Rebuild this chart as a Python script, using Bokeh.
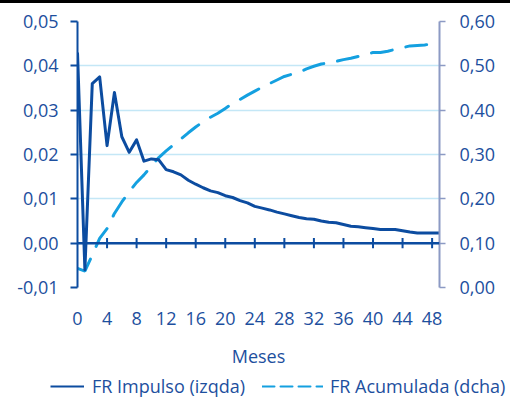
from bokeh.plotting import figure
from bokeh.models import (Range1d, LinearAxis, FixedTicker, Legend, LegendItem,
                          Span, ColumnDataSource, Div)
from bokeh.layouts import column
from bokeh.embed import file_html
from bokeh.resources import INLINE

months = list(range(50))
impulso = [0.043, -0.006, 0.036, 0.0375, 0.022, 0.034, 0.024, 0.0205, 0.0233, 0.0185,
           0.019, 0.0188, 0.0166, 0.0161, 0.0154, 0.0142, 0.0133, 0.0125, 0.0118, 0.0114,
           0.0107, 0.0103, 0.0096, 0.0091, 0.0083, 0.0079, 0.0075, 0.0070, 0.0066, 0.0062,
           0.0058, 0.0055, 0.0054, 0.0050, 0.0047, 0.0046, 0.0042, 0.0038, 0.0037, 0.0035,
           0.0033, 0.0031, 0.0031, 0.0031, 0.0028, 0.0025, 0.0023, 0.0023, 0.0023, 0.0023]
acumulada = [0.043, 0.037, 0.073, 0.111, 0.133, 0.167, 0.193, 0.216, 0.237, 0.254,
             0.274, 0.293, 0.308, 0.322, 0.335, 0.349, 0.362, 0.374, 0.384, 0.393,
             0.404, 0.415, 0.424, 0.434, 0.443, 0.452, 0.460, 0.468, 0.476, 0.481,
             0.486, 0.493, 0.499, 0.504, 0.507, 0.510, 0.514, 0.517, 0.521, 0.526,
             0.530, 0.530, 0.533, 0.537, 0.541, 0.545, 0.546, 0.547, 0.550, 0.552]

x_ticks = [0, 4, 8, 12, 16, 20, 24, 28, 32, 36, 40, 44, 48]
left_ticks = [-0.01, 0.0, 0.01, 0.02, 0.03, 0.04, 0.05]
left_labels = ["-0,01", "0,00", "0,01", "0,02", "0,03", "0,04", "0,05"]
right_ticks = [0.0, 0.1, 0.2, 0.3, 0.4, 0.5, 0.6]
right_labels = ["0,00", "0,10", "0,20", "0,30", "0,40", "0,50", "0,60"]
x_label = "Meses"
name_imp = "FR Impulso (izqda)"
name_acu = "FR Acumulada (dcha)"

FONT = "Open Sans"
TXT = "#1d4f9e"
DARK = "#0c4ca0"
LIGHT = "#14a0e0"
GRID = "#c4e7f6"
RAXIS = "#8c9ac4"
FS = "18px"

# top black rule
bar = Div(text="", width=510, height=3, margin=0,
          styles={"display": "block", "background-color": "#000000",
                  "width": "510px", "height": "3px"})

p = figure(width=504, height=368, output_backend="svg", toolbar_location=None,
           x_range=Range1d(0, 49), y_range=Range1d(-0.01, 0.05),
           min_border_left=77, min_border_right=65, min_border_top=18,
           min_border_bottom=84, outline_line_color=None)
p.frame_align = False
p.extra_y_ranges = {"r": Range1d(0, 0.6)}

# grid
p.xgrid.visible = False
p.ygrid.ticker = FixedTicker(ticks=left_ticks)
p.ygrid.grid_line_color = GRID
p.ygrid.grid_line_width = 1.5

# left axis
la = p.yaxis[0]
la.ticker = FixedTicker(ticks=left_ticks)
la.major_label_overrides = dict(zip(left_ticks, left_labels))
la.axis_line_color = DARK
la.axis_line_width = 2
la.major_tick_line_color = DARK
la.major_tick_line_width = 2
la.major_tick_out = 7
la.major_tick_in = 0
la.minor_tick_line_color = None
la.major_label_standoff = 12
la.major_label_text_font = FONT
la.major_label_text_font_size = FS
la.major_label_text_color = TXT

# right axis
ra = LinearAxis(y_range_name="r", ticker=FixedTicker(ticks=right_ticks))
ra.major_label_overrides = dict(zip(right_ticks, right_labels))
ra.axis_line_color = RAXIS
ra.axis_line_width = 2
ra.major_tick_line_color = RAXIS
ra.major_tick_line_width = 1.5
ra.major_tick_out = 6
ra.major_tick_in = 0
ra.minor_tick_line_color = None
ra.major_label_standoff = 14
ra.major_label_text_font = FONT
ra.major_label_text_font_size = FS
ra.major_label_text_color = TXT
p.add_layout(ra, "right")

# bottom axis (labels only)
ba = p.xaxis[0]
ba.ticker = FixedTicker(ticks=x_ticks)
ba.axis_line_color = None
ba.major_tick_line_color = None
ba.minor_tick_line_color = None
ba.major_tick_out = 0
ba.major_tick_in = 0
ba.major_label_standoff = 24
ba.major_label_text_font = FONT
ba.major_label_text_font_size = FS
ba.major_label_text_color = TXT
ba.axis_label = x_label
ba.axis_label_standoff = 16
ba.axis_label_text_font = FONT
ba.axis_label_text_font_size = FS
ba.axis_label_text_font_style = "normal"
ba.axis_label_text_color = TXT

# zero line with crossing ticks
p.add_layout(Span(location=0, dimension="width", line_color=DARK, line_width=2.5))
half = 0.00115
p.segment(x0=x_ticks[1:], x1=x_ticks[1:], y0=[-half] * (len(x_ticks) - 1),
          y1=[half] * (len(x_ticks) - 1), line_color=DARK, line_width=2)

src = ColumnDataSource(dict(m=months, imp=impulso, acu=acumulada))
p.line("m", "acu", source=src, y_range_name="r", line_color=LIGHT,
       line_width=3, line_dash="21 14", line_cap="round")
p.line("m", "imp", source=src, line_color=DARK, line_width=3, line_join="round")

# legend strip (its sample lines lie outside its visible range)
q = figure(width=510, height=27, output_backend="svg", toolbar_location=None,
           x_range=Range1d(0, 1), y_range=Range1d(0, 1),
           min_border=0, outline_line_color=None)
q.frame_align = False
q.axis.visible = False
q.grid.visible = False
k_imp = q.line(x=[2, 3], y=[2, 2], line_color=DARK, line_width=2)
k_acu = q.line(x=[2, 3], y=[2, 2], line_color=LIGHT, line_width=2,
               line_dash="12 6", line_cap="round")

def mk_legend(item, loc, gw, so):
    lg = Legend(items=[item], location=loc, orientation="horizontal",
                glyph_width=gw, glyph_height=20, label_height=20,
                label_standoff=so, padding=0, margin=0, spacing=0,
                background_fill_alpha=0, border_line_alpha=0,
                label_text_font=FONT, label_text_font_size=FS,
                label_text_color=TXT)
    q.add_layout(lg, "center")

mk_legend(LegendItem(label=name_imp, renderers=[k_imp]), (50, 0), 34, 8)
mk_legend(LegendItem(label=name_acu, renderers=[k_acu]), (262, 0), 61, 7)

layout = column(bar, p, q, spacing=0)

open("out.html", "w").write(file_html(layout, INLINE))
